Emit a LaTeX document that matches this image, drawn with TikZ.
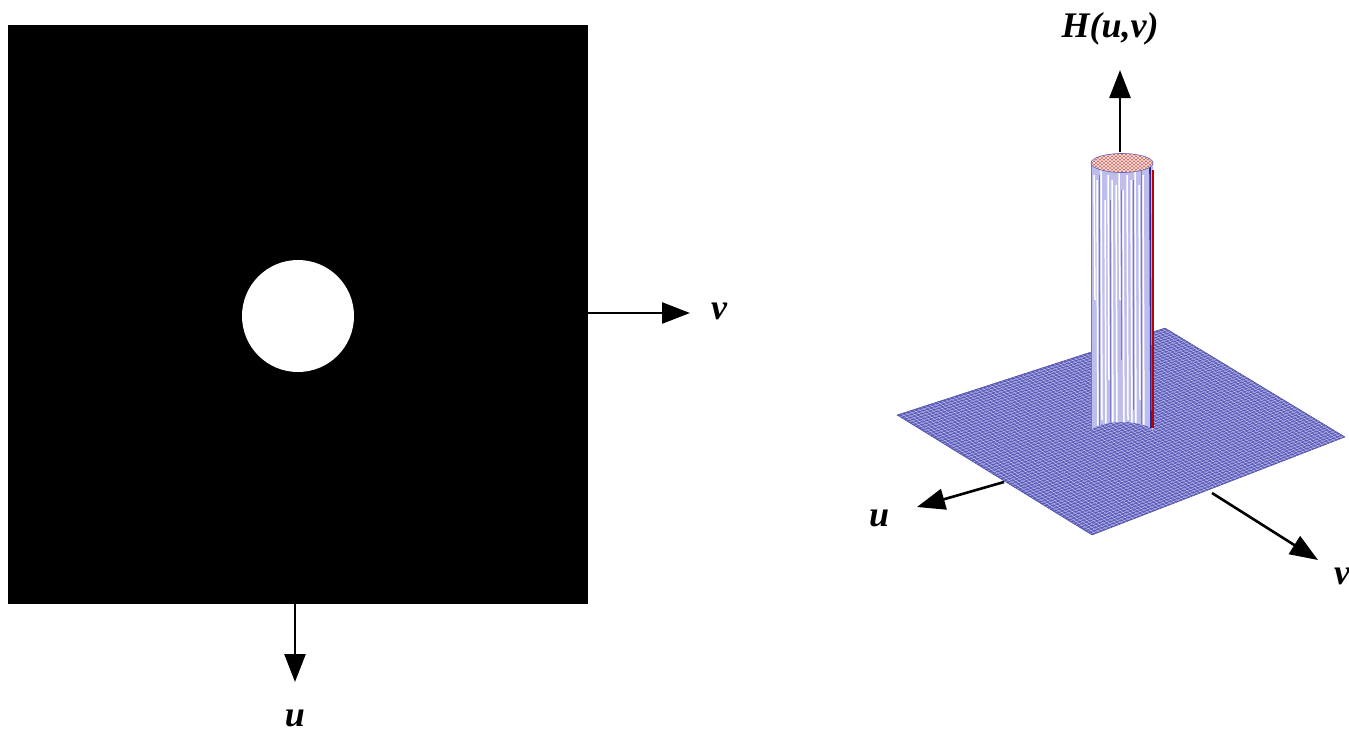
\documentclass[tikz,border=0pt]{standalone}
\usepackage{fontspec}
\setmainfont{Liberation Serif}
\usetikzlibrary{arrows.meta,calc}
\definecolor{planeblue}{RGB}{92,92,190}
\definecolor{cyllav}{RGB}{190,190,236}
\definecolor{cyldark}{RGB}{40,40,150}
\definecolor{topred}{RGB}{210,100,90}
\begin{document}
\begin{tikzpicture}[x=1pt,y=-1pt,
  axis/.style={line width=2.6pt,-{Triangle[length=28pt,width=21pt]}},
  lbl/.style={font=\fontsize{36}{40}\selectfont\bfseries\itshape, inner sep=0pt}]
\useasboundingbox (0,0) rectangle (1349,734);
% ---------- left: image of ideal low-pass filter ----------
\node[fill=black, minimum width=580, minimum height=579, inner sep=0, anchor=north west] (img) at (8,25) {};
\fill[white] (298,316) circle[radius=56];
\coordinate (vstart) at (588,313);
\coordinate (vend) at (690,313);
\coordinate (ustart) at (295,604);
\coordinate (uend) at (295,682);
\draw[axis] (vstart) -- (vend);
\draw[axis] (ustart) -- (uend);
\node[lbl] (vlab) at (719,311) {v};
\node[lbl] (ulab) at (295,718) {u};
% ---------- right: 3D plot ----------
\coordinate (L) at (897,415);
\coordinate (T) at (1165,328);
\coordinate (R) at (1345,437);
\coordinate (B) at (1092,535);
\fill[planeblue] (L) -- (T) -- (R) -- (B) -- cycle;
\foreach \t in {0.015,0.030,...,0.99}{
  \draw[white, line width=0.4pt, opacity=0.6] ($(L)!\t!(T)$) -- ($(B)!\t!(R)$);
  \draw[white, line width=0.4pt, opacity=0.6] ($(L)!\t!(B)$) -- ($(T)!\t!(R)$);
}
\draw[planeblue!80!black, line width=0.4pt] (L) -- (T) -- (R) -- (B) -- cycle;
% cylinder body
\fill[cyllav] (1091,163) -- (1091,432) arc[start angle=180, end angle=360, x radius=31, y radius=10] -- (1153,163) -- cycle;
\begin{scope}
\clip (1091,163) -- (1091,432) arc[start angle=180, end angle=360, x radius=31, y radius=10] -- (1153,163) -- cycle;
\foreach \x/\a/\b in {1094/175/300, 1097/180/440, 1101/170/420, 1105/200/445, 1108/175/380, 1112/180/445, 1116/185/440, 1119/170/300, 1123/190/445, 1127/175/420, 1131/180/445, 1135/170/440, 1139/185/400, 1143/175/440}{
  \draw[white, line width=1.5pt] (\x,\a) -- (\x+1,\b);
}
\foreach \x/\a/\b in {1099/175/430, 1110/200/430, 1121/190/360, 1133/180/410, 1141/170/430}{
  \draw[cyldark!45!cyllav, line width=0.9pt] (\x,\a) -- (\x,\b);
}
\end{scope}
\draw[cyldark, line width=1.6pt] (1150,165) -- (1151,428);
\draw[red!75!black, line width=1.2pt] (1153,170) -- (1153,428);
\draw[cyldark!50!cyllav, line width=0.6pt] (1091,163) -- (1091,432);
% top cap
\fill[topred] (1122,163) ellipse[x radius=31, y radius=9.5];
\begin{scope}
\clip (1122,163) ellipse[x radius=31, y radius=9.5];
\foreach \d in {-40,-36,...,40}{
  \draw[white, line width=0.8pt, opacity=0.75] (1122+\d-12,153) -- (1122+\d+12,173);
  \draw[white, line width=0.8pt, opacity=0.75] (1122+\d+12,153) -- (1122+\d-12,173);
}
\end{scope}
\draw[cyldark!60!cyllav, line width=0.6pt] (1122,163) ellipse[x radius=31, y radius=9.5];
% axes
\coordinate (hstart) at (1120,152);
\coordinate (hend) at (1120,70);
\draw[axis] (hstart) -- (hend);
\node[lbl] (hlab) at (1110,29) {H(u,v)};
\coordinate (u2start) at (1004,482);
\coordinate (u2end) at (917,507);
\draw[axis] (u2start) -- (u2end);
\node[lbl] (u2lab) at (879,518) {u};
\coordinate (v2start) at (1212,493);
\coordinate (v2end) at (1318,560);
\draw[axis] (v2start) -- (v2end);
\node[lbl, anchor=west] (v2lab) at (1334,576) {v};
\end{tikzpicture}
\end{document}
